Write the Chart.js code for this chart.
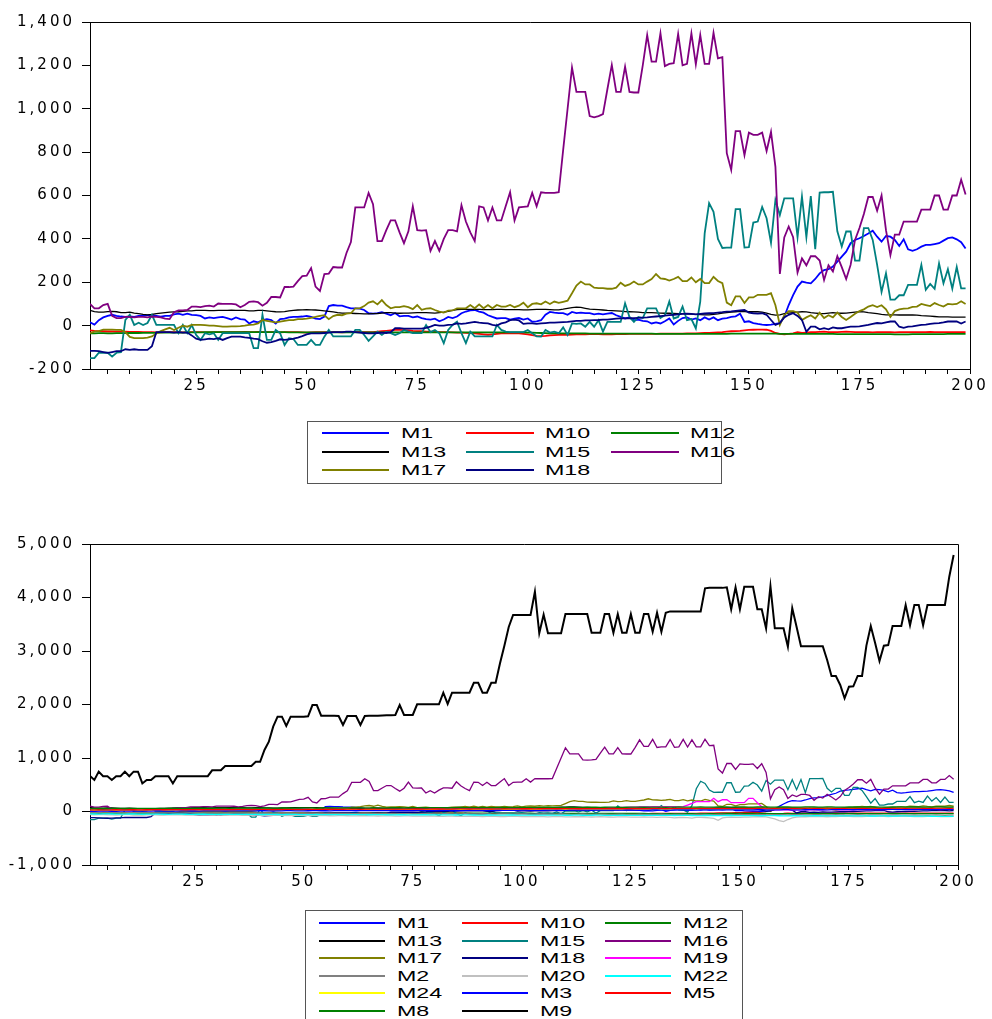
<!DOCTYPE html>
<html>
<head>
<meta charset="utf-8">
<script src="https://cdn.jsdelivr.net/npm/chart.js@4.4.1/dist/chart.umd.min.js"></script>
<style>
  body { margin: 0; background: #fff; width: 992px; height: 1019px; overflow: hidden; position: relative; font-family: "Liberation Sans", Arial, sans-serif; }
  canvas { position: absolute; left: 0; }
  #chartTop { top: 0; }
  #chartBottom { top: 500px; }
  .legend { position: absolute; border: 1px solid #555; background: #fff; box-sizing: border-box; }
  .item-line { position: absolute; height: 1.5px; }
  .item-text { position: absolute; font-size: 15px; line-height: 16px; color: #000; transform: scaleX(1.55); transform-origin: left center; white-space: nowrap; }
</style>
</head>
<body>
<canvas id="chartTop" width="992" height="400"></canvas>
<canvas id="chartBottom" width="992" height="400"></canvas>
<div class="legend" id="legendTop" style="left:307px;top:421px;width:415px;height:63px"></div>
<div class="legend" id="legendBottom" style="left:305px;top:910px;width:438px;height:120px"></div>

<script>
// observaciones 1..199
const OBS = Array.from({ length: 199 }, (_, k) => k + 1);
const TICKS_X = [5, 10, 15, 20, 25, 30, 35, 40, 45, 50, 55, 60, 65, 70, 75, 80, 85, 90, 95, 100,
  105, 110, 115, 120, 125, 130, 135, 140, 145, 150, 155, 160, 165, 170, 175, 180, 185, 190, 195, 200];

const M1 = [
  15,5,25,38,45,50,45,42,40,42, 40,45,45,48,48,45,42,45,45,52,
  55,50,55,50,48,45,33,38,35,38, 40,35,28,38,30,28,10,20,15,25,
  30,25,10,30,32,38,40,40,42,45, 40,32,30,42,90,95,92,92,85,80,
  80,78,72,57,55,58,62,55,48,58, 43,45,45,38,42,35,30,28,32,20,
  28,40,35,42,57,65,70,72,65,60, 48,40,33,35,35,28,32,35,28,33,
  18,20,25,50,63,60,58,58,50,63, 58,60,58,58,52,55,52,55,58,48,
  40,33,38,25,28,22,20,10,15,10, 20,33,5,22,35,38,28,33,25,38,
  28,38,25,32,35,40,43,55,17,20, 12,8,5,3,5,8,12,41,95,141,
  180,203,198,195,215,241,256,260,272,295, 318,341,380,395,403,413,425,438,410,387,
  413,410,395,367,398,352,345,352,364,372, 372,376,380,392,403,407,398,385,356
];
const M10 = [
  -22,-24,-25,-26,-27,-27,-28,-28,-28,-29, -29,-29,-30,-30,-30,-31,-31,-30,-30,-30,
  -30,-31,-30,-30,-30,-30,-31,-31,-30,-30, -30,-30,-30,-30,-30,-29,-30,-30,-29,-30,
  -30,-30,-30,-31,-30,-30,-30,-30,-31,-32, -31,-30,-30,-30,-30,-30,-30,-31,-30,-30,
  -30,-29,-30,-30,-30,-28,-26,-24,-22,-20, -20,-21,-22,-24,-25,-26,-28,-28,-29,-30,
  -30,-30,-31,-32,-32,-33,-34,-36,-38,-40, -42,-40,-38,-36,-36,-35,-36,-36,-38,-40,
  -44,-47,-48,-47,-45,-44,-43,-42,-42,-41, -40,-40,-40,-39,-39,-39,-40,-40,-40,-39,
  -39,-39,-38,-38,-38,-38,-38,-38,-38,-37, -37,-37,-37,-37,-37,-36,-36,-36,-35,-34,
  -33,-32,-31,-30,-28,-26,-25,-24,-22,-20, -19,-18,-18,-19,-24,-34,-38,-40,-38,-36,
  -30,-34,-32,-30,-30,-29,-28,-30,-30,-30, -29,-28,-29,-30,-30,-30,-30,-31,-30,-30,
  -30,-30,-31,-30,-30,-30,-30,-30,-30,-30, -29,-30,-30,-30,-30,-30,-30,-30,-30
];
const M12 = [
  -36,-36,-35,-35,-36,-36,-35,-35,-35,-34, -34,-34,-33,-33,-33,-33,-32,-32,-32,-32,
  -32,-32,-31,-31,-31,-31,-30,-30,-30,-30, -30,-30,-30,-30,-30,-30,-30,-30,-30,-30,
  -30,-30,-30,-30,-30,-31,-31,-31,-31,-31, -31,-31,-31,-31,-31,-31,-31,-31,-31,-31,
  -31,-31,-31,-31,-31,-31,-31,-31,-31,-31, -31,-31,-31,-31,-31,-31,-31,-31,-31,-31,
  -31,-31,-31,-31,-31,-31,-31,-31,-31,-31, -31,-31,-31,-31,-31,-31,-31,-31,-31,-32,
  -32,-33,-34,-35,-36,-36,-36,-36,-36,-36, -36,-36,-36,-37,-37,-37,-37,-37,-37,-37,
  -37,-37,-37,-37,-37,-37,-37,-37,-38,-38, -38,-38,-38,-38,-38,-38,-38,-38,-38,-38,
  -38,-38,-38,-38,-38,-37,-37,-37,-37,-37, -37,-37,-37,-37,-37,-37,-38,-38,-38,-38,
  -38,-38,-38,-38,-38,-38,-38,-38,-38,-39, -39,-39,-39,-39,-39,-39,-39,-39,-39,-39,
  -39,-39,-40,-40,-40,-40,-39,-39,-39,-39, -39,-39,-39,-39,-38,-38,-38,-38,-38
];
const M13 = [
  70,65,62,62,65,66,64,60,60,62, 58,55,52,50,52,55,58,60,62,63,
  64,66,68,68,70,70,70,69,69,70, 70,70,71,70,70,70,68,68,70,70,
  68,66,64,63,65,68,70,72,73,74, 73,72,70,68,66,63,60,58,57,57,
  56,55,54,54,55,56,58,60,60,58, 57,58,58,59,60,60,60,59,58,60,
  62,66,70,74,75,75,75,75,75,74, 74,74,75,75,74,74,74,74,73,73,
  74,75,75,75,74,73,73,76,80,83, 85,84,80,76,75,74,72,70,69,68,
  67,65,64,63,62,60,60,60,59,58, 57,57,56,55,55,54,53,52,51,50,
  50,52,54,58,60,62,64,66,65,64, 64,64,62,58,52,48,50,55,58,60,
  62,64,63,60,58,56,55,58,60,58, 57,58,60,62,64,63,60,58,55,52,
  50,50,50,49,49,50,49,48,46,45, 44,42,40,40,40,39,39,39,39
];
const M15 = [
  -150,-150,-125,-125,-125,-143,-125,-122,26,50, 3,13,3,12,50,3,3,3,3,3,
  -35,3,-35,3,-43,-66,-35,-40,-35,-66, -35,-35,-35,-35,-35,-35,-35,-104,-104,50,
  -66,-66,-20,-35,-89,-58,-62,-89,-89,-89, -66,-89,-89,-51,-20,-50,-50,-50,-50,-50,
  -20,-20,-43,-70,-50,-28,-43,-28,-35,-43, -35,-20,-28,-35,-35,-35,3,-30,-20,-35,
  -81,-20,3,18,-35,-81,-28,-50,-50,-50, -50,-50,3,-20,-28,-30,-30,-30,-30,-20,
  -35,-50,-51,-20,-32,-28,-35,-8,-43,10, 8,10,-5,17,-5,25,-28,17,17,17,
  17,103,40,17,40,35,80,80,80,35, 48,111,33,40,88,25,30,-13,110,425,
  565,525,400,358,360,360,537,537,360,362, 475,480,547,495,382,580,510,587,587,587,
  408,595,408,597,353,613,615,615,617,435, 365,434,434,300,300,450,450,395,280,155,
  241,120,120,140,140,188,188,188,280,165, 192,170,287,195,260,170,270,172,172
];
const M16 = [
  100,80,80,95,100,45,35,35,40,40, 38,40,40,38,42,40,38,32,30,62,
  70,70,72,88,88,85,90,92,88,102, 100,100,100,98,85,95,110,112,108,92,
  105,132,132,130,178,178,180,205,228,230, 265,180,160,238,240,270,268,268,335,385,
  545,545,545,612,560,390,390,440,485,485, 430,380,435,550,440,438,440,345,390,345,
  400,440,440,435,555,480,430,390,550,545, 485,545,485,485,550,615,485,545,548,550,
  612,550,615,612,612,612,615,810,1000,1190, 1078,1078,1078,966,960,966,975,1090,1202,1078,
  1078,1194,1078,1075,1075,1200,1340,1217,1217,1348, 1197,1207,1210,1345,1200,1207,1348,1205,1340,1207,
  1207,1350,1232,1238,795,718,897,897,786,890, 880,880,890,805,893,732,238,407,457,408,
  245,310,278,320,320,300,210,278,250,320, 270,215,280,395,450,515,593,593,530,600,
  440,325,420,420,480,480,480,480,535,535, 535,600,600,535,535,600,600,673,605
];
const M17 = [
  -35,-28,-25,-18,-18,-18,-20,-20,-30,-52, -58,-58,-58,-55,-50,-36,-25,-17,-10,-20,
  -10,0,-5,3,3,3,2,0,0,-2, -5,-5,-3,-3,-2,0,3,5,10,26,
  22,18,15,18,22,25,25,30,30,32, 36,40,45,48,30,44,50,48,55,57,
  80,80,90,106,112,98,118,95,80,85, 85,90,85,76,95,73,78,80,72,65,
  60,69,70,80,80,80,95,80,98,80, 95,80,95,88,88,95,85,92,106,85,
  100,103,98,111,100,111,105,110,115,149, 185,203,190,190,175,173,173,170,170,175,
  198,183,190,203,190,190,203,215,238,218, 215,208,215,225,205,205,222,200,215,196,
  196,225,206,196,106,94,135,135,104,130, 130,142,142,142,150,94,3,48,67,67,
  60,26,38,48,33,60,35,48,38,60, 40,26,40,55,67,75,88,94,86,94,
  75,40,67,75,78,80,86,88,100,95, 90,104,95,88,100,98,100,112,100
];
const M18 = [
  -116,-116,-118,-122,-126,-122,-118,-118,-109,-112, -109,-112,-112,-112,-95,-30,-30,-30,-30,-32,
  -30,-32,-32,-45,-60,-66,-63,-60,-62,-58, -66,-58,-51,-51,-51,-54,-56,-60,-62,-72,
  -79,-76,-70,-63,-66,-63,-60,-55,-48,-40, -36,-36,-36,-34,-32,-30,-30,-30,-28,-28,
  -30,-32,-34,-36,-36,-34,-32,-34,-30,-12, -12,-14,-14,-14,-14,-14,-10,-5,3,0,
  0,3,5,10,8,10,14,17,14,12, 10,3,0,10,15,25,28,24,8,10,
  10,8,10,12,14,14,15,16,17,20, 22,22,24,24,25,26,28,28,30,32,
  33,33,34,35,36,37,38,40,42,44, 46,48,50,52,54,55,54,52,54,56,
  57,58,60,62,65,66,68,70,72,60, 57,55,57,50,26,3,12,38,50,57,
  45,26,-28,-5,-5,-17,-12,-17,-8,-12, -12,-8,-5,-5,-3,0,3,8,12,10,
  15,19,19,-5,-10,-5,-3,0,3,5, 8,10,12,15,19,19,19,10,19
];
const M19 = [
  20,22,19,18,21,23,25,22,20,18, 21,23,24,21,20,19,22,25,28,26,
  24,25,27,28,30,27,26,24,28,31, 32,29,28,27,29,30,33,35,31,30,
  29,32,34,36,35,33,34,37,38,41, 38,35,36,34,37,39,40,43,40,38,
  37,39,41,42,46,43,40,38,41,43, 44,46,47,44,42,41,43,45,47,49,
  51,48,46,45,44,47,49,51,53,50, 48,47,45,46,49,51,53,55,52,50,
  49,47,46,45,47,49,52,54,56,58, 56,55,53,51,54,57,60,62,65,68,
  70,72,75,78,80,82,85,86,88,90, 90,88,90,92,90,88,90,120,150,184,
  184,184,184,247,184,220,220,165,165,165, 165,247,247,165,90,42,35,30,30,32,
  30,28,31,33,35,32,30,29,31,34, 36,35,33,31,30,32,34,36,37,38,
  37,35,34,36,38,40,41,39,37,36, 38,40,42,41,39,37,38,40,41
];
const M2 = [
  -20,-22,-19,-24,-25,-21,-20,-23,-24,-26, -26,-24,-23,-25,-27,-28,-26,-25,-24,-26,
  -29,-30,-27,-26,-28,-29,-31,-32,-29,-28, -31,-33,-33,-31,-30,-32,-34,-35,-33,-31,
  -33,-36,-37,-34,-32,-35,-37,-38,-36,-34, -34,-37,-39,-37,-35,-36,-39,-40,-37,-35,
  -38,-41,-39,-36,-38,-41,-42,-39,-37,-40, -43,-41,-38,-40,-43,-44,-41,-39,-42,-45,
  -43,-40,-42,-45,-46,-43,-41,-44,-47,-45, -42,-44,-47,-48,-45,-43,-46,-49,-47,-44,
  -46,-49,-50,-47,-45,-48,-51,-49,-46,-48, -51,-52,-49,-47,-50,-53,-51,-48,-50,-53,
  -54,-51,-49,-52,-55,-53,-50,-52,-55,-56, -53,-51,-54,-57,-55,-52,-54,-57,-58,-55,
  -53,-56,-59,-57,-54,-56,-59,-60,-57,-55, -58,-61,-59,-56,-58,-61,-62,-59,-57,-60,
  -63,-61,-58,-60,-63,-64,-61,-59,-62,-65, -63,-60,-62,-65,-66,-63,-61,-64,-67,-65,
  -62,-64,-67,-68,-65,-63,-66,-69,-67, -64,-66,-69,-70,-67,-65,-68,-71,-69,-66
].slice(0, 199);
const M20 = [
  -60,-63,-59,-57,-61,-62,-66,-62,-59,-58, -61,-63,-64,-61,-60,-62,-65,-67,-63,-62,
  -59,-62,-65,-66,-69,-66,-63,-62,-65,-67, -68,-71,-68,-65,-68,-71,-72,-69,-68,-71,
  -73,-74,-71,-70,-73,-75,-76,-73,-72,-75, -77,-78,-75,-74,-77,-79,-80,-77,-76,-79,
  -81,-82,-79,-78,-81,-83,-84,-81,-80,-83, -85,-86,-83,-82,-85,-87,-88,-85,-84,-87,
  -89,-90,-87,-86,-89,-91,-92,-89,-88,-91, -93,-90,-87,-90,-93,-95,-92,-89,-92,-95,
  -97,-94,-91,-94,-97,-99,-96,-93,-96,-99, -101,-98,-95,-98,-101,-103,-100,-97,-100,-103,
  -105,-102,-99,-102,-105,-107,-104,-101,-104,-107, -109,-106,-104,-110,-120,-112,-108,-115,-125,-110,
  -108,-112,-118,-130,-165,-120,-108,-105,-110,-108, -104,-106,-100,-98,-95,-100,-120,-140,-170,-190,
  -150,-120,-105,-100,-98,-96,-94,-92,-95,-98, -96,-94,-92,-90,-92,-94,-96,-94,-92,-90,
  -88,-90,-92,-94,-92,-90,-88,-90,-92,-94, -96,-94,-92,-90,-92,-94,-96,-94,-92
];
const M22 = [
  -45,-47,-48,-46,-45,-47,-49,-50,-48,-47, -47,-49,-51,-50,-49,-48,-49,-51,-52,-50,
  -50,-49,-51,-53,-53,-51,-50,-52,-53,-52, -54,-53,-52,-54,-55,-54,-53,-53,-55,-56,
  -56,-55,-54,-56,-57,-56,-55,-55,-57,-58, -58,-57,-56,-58,-59,-58,-57,-57,-59,-60,
  -60,-59,-58,-60,-61,-60,-59,-59,-61,-62, -62,-61,-60,-62,-63,-62,-61,-61,-63,-64,
  -64,-63,-62,-64,-65,-64,-63,-63,-65,-66, -66,-65,-64,-66,-67,-66,-65,-65,-67,-68,
  -68,-67,-66,-68,-69,-68,-67,-67,-69,-70, -70,-69,-68,-70,-71,-70,-69,-69,-71,-72,
  -72,-71,-70,-72,-73,-72,-71,-71,-73,-74, -74,-73,-72,-74,-75,-74,-73,-73,-75,-76,
  -76,-75,-74,-76,-77,-76,-75,-75,-77,-78, -78,-77,-76,-78,-79,-78,-77,-77,-79,-80,
  -80,-79,-78,-80,-81,-80,-79,-79,-81,-82, -82,-81,-80,-82,-83,-82,-81,-81,-83,-84,
  -84,-83,-82,-84,-85,-84,-83,-83,-85,-86, -86,-87,-88,-89,-90,-90,-91,-92,-92
];
const M24 = [
  20,21,23,21,20,22,24,22,21,22, 23,25,23,22,23,24,26,24,23,24,
  25,24,22,24,25,27,25,24,25,26, 27,26,24,26,27,29,27,26,27,28,
  28,27,25,27,28,30,28,27,28,29, 30,29,27,29,30,32,30,29,30,31,
  30,29,30,31,33,31,30,31,32,33, 32,31,32,34,32,31,32,33,35,33,
  32,33,35,33,32,33,34,36,34,33, 34,35,34,33,34,35,37,35,34,35,
  36,35,34,35,36,38,36,35,36,37, 36,35,36,37,39,37,36,37,38,37,
  36,37,39,37,36,37,38,40,38,37, 38,39,38,37,38,39,41,39,38,39,
  40,39,38,39,40,42,40,39,40,41, 40,39,40,41,43,41,40,41,42,41,
  40,41,43,41,40,41,42,44,42,41, 42,43,42,41,42,43,45,43,42,43,
  44,43,42,43,44,46,44,43,44,45, 44,43,44,45,47,45,44,45,46
];
const M3 = [
  5,4,7,8,6,5,4,6,8,8, 9,7,7,6,8,10,10,8,8,7,
  8,11,11,9,9,8,10,12,12,10, 10,9,12,12,13,11,11,10,12,14,
  14,12,12,11,13,15,15,13,13,12, 14,16,16,14,14,13,15,17,17,15,
  15,14,16,18,18,16,16,15,17,19, 19,17,17,16,18,20,20,18,18,17,
  19,21,21,19,19,18,20,22,22,20, 20,19,21,23,23,21,21,20,22,24,
  24,22,22,21,23,25,25,23,23,22, 24,26,26,24,24,23,25,27,27,25,
  25,24,26,28,28,26,26,25,27,29, 29,27,27,26,28,30,30,28,28,27,
  29,31,31,29,29,28,30,32,32,30, 30,29,31,33,33,31,31,30,32,34,
  34,32,32,31,33,35,35,33,33,32, 34,36,36,34,34,33,35,37,37,35,
  35,34,36,38,38,36,36,35,37,39, 39,37,37,36,38,40,40,38,38
];
const M5 = [
  30,31,33,31,30,32,34,32,31,33, 34,32,32,33,35,35,34,33,34,36,
  36,35,33,35,36,38,36,35,36,37, 38,37,35,37,38,40,38,37,38,39,
  40,39,37,39,40,42,40,39,40,41, 42,41,39,41,42,44,42,41,42,43,
  44,43,41,43,44,46,44,43,44,45, 46,45,43,45,46,48,46,45,46,47,
  48,47,45,47,48,50,48,47,48,49, 50,49,47,49,50,52,50,49,50,51,
  52,51,49,51,52,54,52,51,52,53, 54,53,51,53,54,56,54,53,54,55,
  56,55,53,55,56,58,56,55,56,57, 58,57,55,57,58,60,58,57,58,59,
  60,59,57,59,60,62,60,59,60,61, 62,61,59,61,62,64,62,61,62,63,
  62,61,60,62,62,63,61,61,62,64, 62,60,60,61,63,63,62,61,61,63,
  63,61,60,61,62,64,62,60,62,63, 62,61,59,61,62,63,63,61,62
];
const M8 = [
  55,56,58,56,55,57,59,57,56,58, 59,57,57,58,60,60,59,58,59,61,
  61,60,58,60,61,63,61,60,61,62, 63,62,60,62,63,65,63,62,63,64,
  65,64,62,64,65,67,65,64,65,66, 67,66,64,66,67,69,67,66,67,68,
  69,68,66,68,69,71,69,68,69,70, 71,70,68,70,71,73,71,70,71,72,
  73,72,70,72,73,75,73,72,73,74, 75,74,72,74,75,77,75,74,75,76,
  77,76,74,76,77,79,77,76,77,78, 79,78,76,78,79,81,79,78,79,80,
  80,79,77,79,80,82,80,79,80,81, 82,81,79,81,82,84,82,81,82,83,
  84,83,81,83,84,86,84,83,84,85, 84,83,82,84,84,85,83,83,84,86,
  84,82,82,83,85,85,84,83,83,85, 85,83,82,83,84,86,84,82,84,85,
  84,83,81,83,84,85,85,83,84,86, 84,82,82,83,85,85,84,83,84
];
const M9 = [
  664,590,745,660,660,590,660,660,745,660, 745,745,525,590,590,660,660,660,660,525,
  660,660,660,660,660,660,660,660,770,770, 770,850,850,850,850,850,850,850,930,930,
  1150,1305,1585,1772,1772,1598,1772,1772,1772,1772, 1780,1990,1990,1790,1790,1790,1790,1785,1617,1785,
  1785,1785,1617,1785,1790,1790,1790,1795,1800,1800, 1804,1990,1804,1804,1804,2003,2003,2003,2003,2003,
  2003,2220,2010,2220,2220,2220,2220,2220,2407,2407, 2220,2220,2407,2407,2770,3100,3450,3673,3673,3673,
  3673,3673,4108,3331,3680,3331,3331,3331,3331,3690, 3690,3690,3690,3690,3690,3340,3340,3340,3690,3690,
  3340,3690,3340,3340,3690,3340,3340,3690,3690,3361, 3716,3361,3716,3740,3740,3740,3740,3740,3740,3740,
  3740,4172,4180,4180,4180,4180,4190,3780,4190,3780, 4200,4200,4200,3780,3780,3423,4210,3423,3423,3423,
  3080,3800,3450,3090,3090,3090,3090,3090,3090,2832, 2533,2533,2365,2116,2334,2340,2533,2533,3100,3467,
  3150,2813,3100,3110,3467,3467,3467,3860,3480,3860, 3860,3480,3860,3860,3860,3860,3860,4389,4794
];

const SERIES = { M1, M10, M12, M13, M15, M16, M17, M18, M19, M2, M20, M22, M24, M3, M5, M8, M9 };
const COLORS = {
  M1: '#0000ff', M10: '#ff0000', M12: '#008000', M13: '#000000', M15: '#008080', M16: '#800080',
  M17: '#808000', M18: '#000080', M19: '#ff00ff', M2: '#808080', M20: '#c0c0c0', M22: '#00ffff',
  M24: '#ffff00', M3: '#0000ff', M5: '#ff0000', M8: '#008000', M9: '#000000'
};
const NAMES_TOP = ['M1', 'M10', 'M12', 'M13', 'M15', 'M16', 'M17', 'M18'];
const NAMES_BOTTOM = ['M1', 'M10', 'M12', 'M13', 'M15', 'M16', 'M17', 'M18', 'M19', 'M2', 'M20', 'M22', 'M24', 'M3', 'M5', 'M8', 'M9'];

// texto ancho como en el original
const wideText = {
  id: 'wideText',
  beforeUpdate(chart) { chart.ctx.letterSpacing = '3px'; },
  beforeDraw(chart) { chart.ctx.letterSpacing = '3px'; }
};
// marco superior y derecho
const frame = {
  id: 'frame',
  afterDraw(chart) {
    const { ctx, chartArea: a } = chart;
    ctx.save();
    ctx.strokeStyle = '#000';
    ctx.lineWidth = 1;
    ctx.beginPath();
    ctx.moveTo(a.left, a.top + 0.5);
    ctx.lineTo(a.right + 0.5, a.top + 0.5);
    ctx.lineTo(a.right + 0.5, a.bottom);
    ctx.stroke();
    ctx.restore();
  }
};

function buildSets(names, widths, defWidth) {
  return names.map((name, k) => ({
    label: name,
    data: SERIES[name].map((v, j) => ({ x: OBS[j], y: v })),
    borderColor: COLORS[name],
    borderWidth: widths[name] || defWidth,
    pointRadius: 0,
    tension: 0,
    fill: false,
    order: names.length - k
  }));
}

function crearGrafico(id, names, widths, defWidth, yMin, yMax, yStep, pad, xHeight) {
  const tickFont = { family: 'DejaVu Sans', size: 15 };
  return new Chart(document.getElementById(id), {
    type: 'line',
    data: { datasets: buildSets(names, widths, defWidth) },
    options: {
      responsive: false,
      animation: false,
      devicePixelRatio: 1,
      layout: { padding: pad },
      plugins: { legend: { display: false }, tooltip: { enabled: false } },
      scales: {
        x: {
          type: 'linear',
          min: 1,
          max: 200,
          afterBuildTicks: (s) => { s.ticks = TICKS_X.map(v => ({ value: v })); },
          afterFit: (s) => { s.height = xHeight; },
          grid: { drawOnChartArea: false, drawTicks: true, tickLength: 5, tickColor: '#000' },
          border: { color: '#000', width: 1 },
          ticks: {
            autoSkip: false, maxRotation: 0, padding: 3, color: '#000', font: tickFont,
            callback: (v) => (v % 25 === 0 ? String(v) : '')
          }
        },
        y: {
          min: yMin,
          max: yMax,
          afterFit: (s) => { s.width = 90; },
          grid: { drawOnChartArea: false, drawTicks: true, tickLength: 8, tickColor: '#000' },
          border: { color: '#000', width: 1 },
          ticks: {
            stepSize: yStep, padding: 7, color: '#000', font: tickFont,
            callback: (v) => v.toLocaleString('en-US')
          }
        }
      }
    },
    plugins: [wideText, frame]
  });
}

crearGrafico('chartTop', NAMES_TOP, { M13: 1.3 }, 1.8, -200, 1400, 200,
  { top: 22, right: 22, left: 0, bottom: 0 }, 31);
crearGrafico('chartBottom', NAMES_BOTTOM, { M9: 2 }, 1.3, -1000, 5000, 1000,
  { top: 44, right: 34, left: 0, bottom: 0 }, 35);

function crearLeyenda(id, names, lineX, textX, rowY) {
  const box = document.getElementById(id);
  const r = box.getBoundingClientRect();
  names.forEach((name, k) => {
    const row = Math.floor(k / 3), col = k % 3;
    const y = rowY[row] - r.top - 1;
    const line = document.createElement('div');
    line.className = 'item-line';
    line.style.left = (lineX[col][0] - r.left - 1) + 'px';
    line.style.width = (lineX[col][1] - lineX[col][0]) + 'px';
    line.style.top = (y - 0.75) + 'px';
    line.style.background = COLORS[name];
    box.appendChild(line);
    const txt = document.createElement('div');
    txt.className = 'item-text';
    txt.textContent = name;
    txt.style.left = (textX[col] - r.left - 1) + 'px';
    txt.style.top = (y - 8) + 'px';
    box.appendChild(txt);
  });
}

crearLeyenda('legendTop', NAMES_TOP, [[322, 389], [466, 534], [611, 679]], [401, 545, 690], [433, 452, 470]);
crearLeyenda('legendBottom', NAMES_BOTTOM, [[319, 385], [462, 528], [605, 671]], [397, 540, 683], [923, 941, 958, 976, 993, 1011]);
</script>
</body>
</html>
